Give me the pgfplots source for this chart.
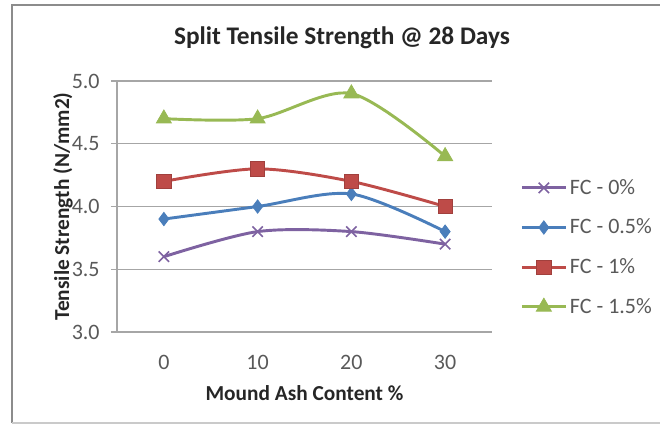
\documentclass[border=0pt]{standalone}
\usepackage{pgfplots}
\pgfplotsset{compat=1.18}
\usepackage{fontspec}
\setmainfont{Carlito}

\definecolor{fcpurple}{HTML}{7E62A1}
\definecolor{fcblue}{HTML}{4A7EBB}
\definecolor{fcred}{HTML}{BE4B48}
\definecolor{fcgreen}{HTML}{98B954}
\definecolor{gridgray}{HTML}{A6A6A6}
\definecolor{labelgray}{HTML}{595959}
\definecolor{framegray}{HTML}{8C8C8C}

\begin{document}
\begin{tikzpicture}
% page area and chart frame (1 unit = 0.75pt, origin at the plot's lower-left corner)
\begin{scope}[x=0.75pt,y=-0.75pt,shift={(-117,-332)}]
  \useasboundingbox (0,0) rectangle (660,432);
  \draw[framegray, line width=1.1pt] (660,5) -- (12,5) -- (12,423);
  \draw[gridgray!60, line width=0.8pt] (12,423) -- (660,423);
\end{scope}

\begin{axis}[
  at={(0,0)}, anchor=south west,
  scale only axis, width=281.25pt, height=188.25pt,
  xmin=-0.5, xmax=3.5, ymin=3, ymax=5,
  xtick={0,1,2,3}, xticklabels={0,10,20,30},
  ytick={3,3.5,4,4.5,5},
  yticklabel style={/pgf/number format/fixed,
                    /pgf/number format/fixed zerofill,
                    /pgf/number format/precision=1,
                    xshift=-5pt},
  /pgf/number format/assume math mode=true,
  axis lines*=left,
  axis line style={gridgray, line width=0.8pt},
  ymajorgrids, grid style={gridgray, line width=0.8pt},
  tick align=outside, major tick length=4.5pt,
  xtick style={draw=none},
  ytick style={gridgray, line width=0.8pt},
  tick label style={font=\fontsize{16.5}{19}\selectfont, color=labelgray},
  xticklabel style={anchor=center, yshift=-18pt},
  title={\textbf{Split Tensile Strength @ 28 Days}},
  title style={at={(axis description cs:0.6,1)}, anchor=center,
               yshift=26.25pt, font=\fontsize{19}{22}\selectfont, color=black!85},
  xlabel={\textbf{Mound Ash Content \%}},
  xlabel style={at={(axis description cs:0.5,0)}, anchor=center,
                yshift=-45.75pt, font=\fontsize{16}{19}\selectfont, color=black!85},
  ylabel={\textbf{Tensile Strength (N/mm2)}},
  ylabel style={at={(axis description cs:0,0.5)}, anchor=center,
                yshift=40.5pt, font=\fontsize{16}{19}\selectfont, color=black!85},
  legend style={at={(axis description cs:1.075,0.62)}, anchor=north west,
                draw=none, fill=none, font=\fontsize{16.5}{19}\selectfont,
                text=labelgray, row sep=13pt, inner sep=0pt,
                /tikz/every even column/.append style={column sep=2pt}},
  legend cell align=left,
  legend image code/.code={
    \draw[mark repeat=2,mark phase=2] plot coordinates {(0pt,0pt) (16.5pt,0pt) (33pt,0pt)};},
  every axis plot/.append style={smooth, tension=0.5, line width=2.2pt},
]
\addplot[fcpurple, mark=x, mark size=5.5pt, mark options={line width=1.2pt}]
  coordinates {(0,3.6) (1,3.8) (2,3.8) (3,3.7)};
\addlegendentry{FC - 0\%}
\addplot[fcblue, mark=diamond*, mark size=5pt, mark options={fill=fcblue, line width=0.6pt}]
  coordinates {(0,3.9) (1,4.0) (2,4.1) (3,3.8)};
\addlegendentry{FC - 0.5\%}
\addplot[fcred, mark=square*, mark size=5.4pt, mark options={fill=fcred, draw=fcred!85!black, line width=0.6pt}]
  coordinates {(0,4.2) (1,4.3) (2,4.2) (3,4.0)};
\addlegendentry{FC - 1\%}
\addplot[fcgreen, mark=triangle*, mark size=6.5pt, mark options={fill=fcgreen, line width=0.6pt}]
  coordinates {(0,4.7) (1,4.7) (2,4.9) (3,4.4)};
\addlegendentry{FC - 1.5\%}
\end{axis}
\end{tikzpicture}
\end{document}
